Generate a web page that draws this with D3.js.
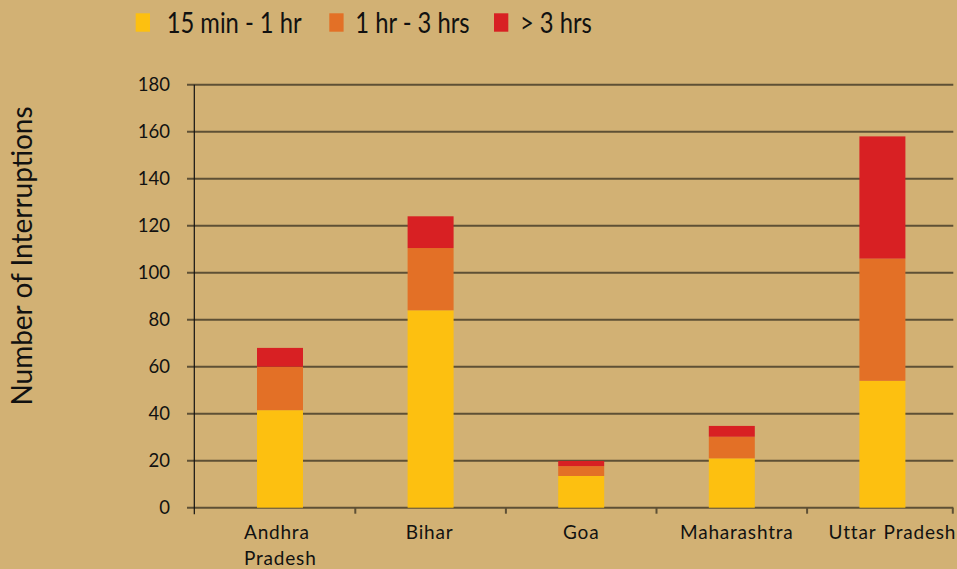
<!DOCTYPE html>
<html><head><meta charset="utf-8">
<script src="https://cdn.jsdelivr.net/npm/d3@7"></script>
<style>body{margin:0;background:#D2B174;}svg{display:block;}</style>
</head><body><svg id="c" width="957" height="569"></svg>
<script>
const categories = ["Andhra Pradesh", "Bihar", "Goa", "Maharashtra", "Uttar Pradesh"];
const seriesNames = ["15 min - 1 hr", "1 hr - 3 hrs", "> 3 hrs"];
const short = [41.5, 84, 13.5, 21, 54];
const medium = [18.5, 26.5, 4.2, 9.2, 52];
const long = [8, 13.5, 2.2, 4.6, 52];
const yTicks = [0, 20, 40, 60, 80, 100, 120, 140, 160, 180];
const colors = ["#FDC010", "#E37026", "#D82023"];

const svg = d3.select("#c");
const W = 957, H = 569;
svg.append("rect").attr("width", W).attr("height", H).attr("fill", "#D2B174");
const axisX = 194.3, gridEnd = 953.3;
const m = {l: 204.7, r: 957.7, t: 84.7, b: 507.7};
const x = d3.scaleBand().domain(categories).range([m.l, m.r]).paddingInner(0.6946).paddingOuter(0.3473);
const y = d3.scaleLinear().domain([0, 180]).range([m.b, m.t]);
const font = "Lato, 'Open Sans', sans-serif";

// gridlines
svg.append("g").selectAll("line").data(yTicks).join("line")
  .attr("x1", 187).attr("x2", gridEnd).attr("y1", d => y(d)).attr("y2", d => y(d))
  .attr("stroke", "#5E5035").attr("stroke-width", 2);
// y tick labels
svg.append("g").selectAll("text").data(yTicks).join("text")
  .attr("x", 170).attr("y", d => y(d)).attr("dy", "0.36em").attr("text-anchor", "end")
  .attr("font-family", font).attr("font-size", 18.5).attr("fill", "#111").text(d => d);

// stacked bars
const rows = categories.map((c, i) => ({cat: c, s0: short[i], s1: medium[i], s2: long[i]}));
const stack = d3.stack().keys(["s0", "s1", "s2"])(rows);
svg.append("g").selectAll("g").data(stack).join("g").attr("fill", (d, i) => colors[i])
  .selectAll("rect").data(d => d).join("rect")
  .attr("x", d => x(d.data.cat)).attr("width", x.bandwidth())
  .attr("y", d => y(d[1])).attr("height", d => y(d[0]) - y(d[1]));

// axis lines
svg.append("line").attr("x1", axisX).attr("x2", axisX).attr("y1", m.t).attr("y2", m.b + 6.5).attr("stroke", "#111").attr("stroke-width", 1.2);
const step = x.step();
svg.append("g").selectAll("line").data(categories).join("line")
  .attr("x1", c => Math.min(x(c) + x.bandwidth() / 2 + step / 2, gridEnd - 0.5))
  .attr("x2", c => Math.min(x(c) + x.bandwidth() / 2 + step / 2, gridEnd - 0.5))
  .attr("y1", m.b).attr("y2", m.b + 6).attr("stroke", "#5E5035").attr("stroke-width", 2);

// x labels
const labelOffset = {"Andhra Pradesh": -36, "Bihar": -1, "Goa": 0, "Maharashtra": 5, "Uttar Pradesh": 10};
const xl = svg.append("g").attr("font-family", font).attr("font-size", 19).attr("fill", "#111").attr("letter-spacing", 0.8);
categories.forEach((c) => {
  const cx = x(c) + x.bandwidth() / 2 + labelOffset[c];
  if (c === "Andhra Pradesh") {
    const t = xl.append("text").attr("text-anchor", "start");
    t.append("tspan").attr("x", cx).attr("y", 538.5).text("Andhra");
    t.append("tspan").attr("x", cx).attr("y", 565).text("Pradesh");
  } else {
    xl.append("text").attr("x", cx).attr("y", 538.5).attr("text-anchor", "middle")
      .attr("word-spacing", c === "Uttar Pradesh" ? 2 : 0).text(c);
  }
});

// y title
svg.append("text").attr("transform", "translate(32,256) rotate(-90)").attr("text-anchor", "middle")
  .attr("font-family", font).attr("font-size", 28).attr("fill", "#111").text("Number of Interruptions");

// legend
const legX = [135.7, 329.3, 494];
const legTextGap = [31, 26, 26];
const lg = svg.append("g");
seriesNames.forEach((s, i) => {
  lg.append("rect").attr("x", legX[i]).attr("y", 13.3).attr("width", 14.3).attr("height", 18.4).attr("fill", colors[i]);
  lg.append("text").attr("transform", `translate(${legX[i] + legTextGap[i]},33.3) scale(0.82,1)`)
    .attr("font-family", font).attr("font-size", 29).attr("fill", "#111").text(s);
});
</script></body></html>
